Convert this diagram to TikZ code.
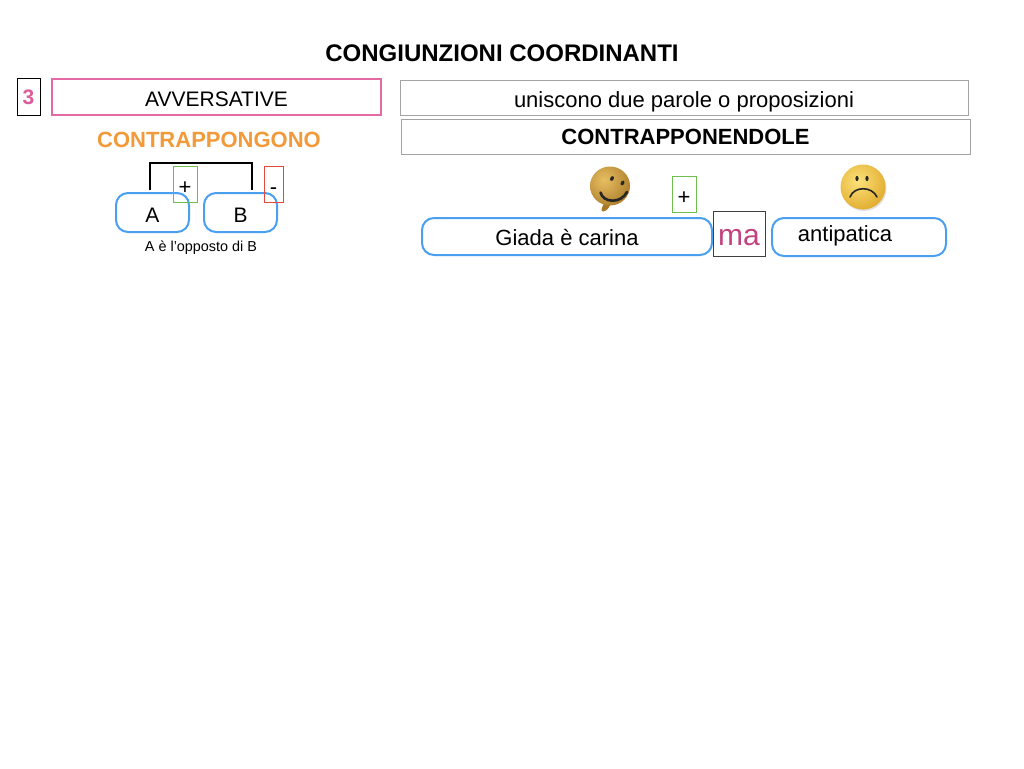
\documentclass[tikz,border=0pt]{standalone}
\usepackage{fontspec}
\setmainfont{Liberation Sans}
\usetikzlibrary{positioning}

\definecolor{AvvPink}{HTML}{E46AA5}
\definecolor{NumPink}{HTML}{DE5C9C}
\definecolor{VerbOrange}{HTML}{F29A3A}
\definecolor{WordBlue}{HTML}{4A9FF0}
\definecolor{PlusGreen}{HTML}{6DBE4E}
\definecolor{MinusRed}{HTML}{E5483A}
\definecolor{HeadGray}{HTML}{A3A3A3}
\definecolor{MaPink}{HTML}{C2417E}
\definecolor{HappyLight}{HTML}{E8BE62}
\definecolor{HappyDark}{HTML}{A87A28}
\definecolor{SadLight}{HTML}{FBE27A}
\definecolor{SadDark}{HTML}{E0A82A}

\tikzset{
  wordbox/.style={draw=WordBlue, line width=2pt, rounded corners=12pt,
    inner sep=0pt, text height=19.5pt, text depth=0pt,
    font=\fontsize{21}{25}\selectfont},
  signbox/.style={draw, line width=0.8pt, inner sep=0pt,
    text height=20pt, text depth=0pt,
    font=\fontsize{22}{26}\selectfont},
  headbox/.style={draw=HeadGray, line width=1pt, inner sep=0pt,
    text height=19pt, text depth=0pt,
    font=\fontsize{22}{26}\selectfont},
}

\begin{document}
\begin{tikzpicture}[x=1pt, y=-1pt]

    \useasboundingbox[fill=white] (0, 0) rectangle (1024, 768);

    % title and heading row
    \node (title) at (502, 53) {\fontsize{24}{28}\selectfont\bfseries CONGIUNZIONI COORDINANTI};

    \node[signbox, text height=15pt, minimum width=23, minimum height=37, font=\fontsize{21}{25}\selectfont\bfseries, text=NumPink] (num) at (28.5, 96.5) {3};
    \node[headbox, draw=AvvPink, line width=2pt, minimum width=329, minimum height=36, font=\fontsize{21}{25}\selectfont] (avv) at (216.5, 97) {AVVERSATIVE};

    \node[headbox, minimum width=568, minimum height=35] (unisc) at (684, 97.5) {uniscono due parole o proposizioni};
    \node[headbox, text height=16.5pt, minimum width=569, minimum height=35, font=\fontsize{22}{26}\selectfont\bfseries] (contrap) at (685.5, 136.5) {CONTRAPPONENDOLE};

    % left: A against B
    \node[text=VerbOrange, font=\fontsize{22}{26}\selectfont\bfseries] (verb) at (209, 140) {CONTRAPPONGONO};

    \coordinate (brL) at (150, 190);
    \coordinate (brR) at (252, 190);
    \draw[line width=2pt] (brL) |- ([yshift=27]brR) -- (brR);

    \node[wordbox, minimum width=73, minimum height=39] (A) at (152.5, 212.5) {A};
    \node[wordbox, minimum width=73, minimum height=39] (B) at (240.5, 212.5) {B};

    \node[signbox, draw=PlusGreen, minimum width=24, minimum height=36] (plusA) at (185, 184) {+};
    \node[signbox, draw=MinusRed, minimum width=19, minimum height=36] (minusB) at (273.5, 184) {-};

    \node[font=\fontsize{14.4}{17}\selectfont] (opp) at (201, 248) {A è l’opposto di B};

    % right: the example sentence
    \node[wordbox, text height=17pt, minimum width=290, minimum height=37, font=\fontsize{22}{26}\selectfont] (giada) at (567, 236.5) {Giada è carina};
    \node[signbox, text height=23pt, draw=black!75, minimum width=52, minimum height=45, font=\fontsize{30}{34}\selectfont, text=MaPink] (ma) at (739, 234) {ma};
    \node[wordbox, minimum width=174, minimum height=38] (anti) at (859, 237) {};
    \node[anchor=base, inner sep=0pt, font=\fontsize{22}{26}\selectfont] (antitext) at (845, 241) {antipatica};

    \node[signbox, draw=PlusGreen, minimum width=24, minimum height=36] (plusG) at (684, 194) {+};

    % happy face
    \coordinate (happy) at (610, 186);
    \fill[HappyDark] (604, 203) .. controls (602, 208) and (600, 211) .. (603, 211.5) .. controls (606, 211) and (609, 209) .. (611, 203) -- cycle;
    \begin{scope}
        \clip (happy) ellipse (20 and 19.5);
        \shade[inner color=HappyLight, outer color=HappyDark] ([shift={(-6,-6)}]happy) circle (30);
    \end{scope}
    \fill[black!85, rotate around={-25:(612, 178.5)}] (612, 178.5) ellipse (1.8 and 2.5);
    \fill[black!85, rotate around={-25:(622.5, 183)}] (622.5, 183) ellipse (1.8 and 2.5);
    \draw[black!85, line width=2.6pt, line cap=round] (600.5, 192.5) .. controls (603, 203) and (621, 204) .. (627, 192);

    % sad face
    \coordinate (sad) at (863, 187);
    \fill[black!12] ([shift={(1,1.5)}]sad) circle (22.5);
    \begin{scope}
        \clip (sad) circle (22.5);
        \shade[inner color=SadLight, outer color=SadDark] ([shift={(-5,-6)}]sad) circle (32);
    \end{scope}
    \fill[black!85] (857, 178.5) ellipse (1.6 and 2.6);
    \fill[black!85] (867, 178.5) ellipse (1.6 and 2.6);
    \draw[black!85, line width=1.6pt, line cap=round] (850, 197) .. controls (854, 186) and (872, 186) .. (877, 197);

\end{tikzpicture}
\end{document}
